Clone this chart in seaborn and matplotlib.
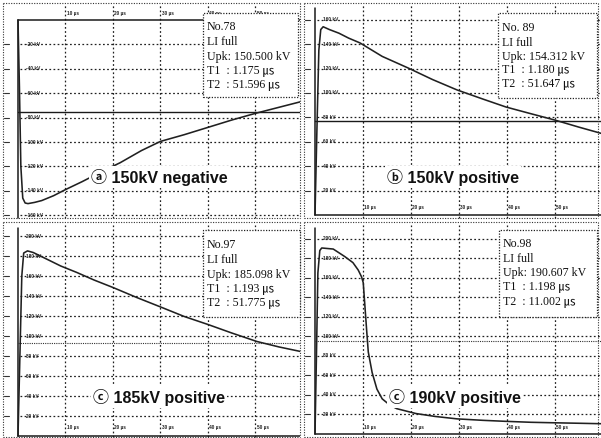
import matplotlib
matplotlib.use("Agg")
import matplotlib.pyplot as plt
from matplotlib.patches import Rectangle
from matplotlib.lines import Line2D
import seaborn as sns

sns.set_style("white")
plt.rcParams["font.family"] = ["Liberation Sans", "DejaVu Sans", "Noto Sans CJK KR"]

W, H = 601, 438

# ---- recorded lightning-impulse waveforms: time (µs) and voltage (kV) ----
time_a = [0.0, 0.3, 0.6, 1.0, 1.5, 2.1, 3.5, 5.0, 7.5, 10.0, 13.5, 17.5, 21.5,
          26.0, 30.0, 35.0, 40.0, 45.0, 50.0, 55.0, 60.0]
kv_a = [0, -55, -120, -146, -150, -150.5, -149.5, -148, -144, -139, -132.5,
        -124.5, -117, -107, -99.5, -94, -88, -82, -76.5, -71.5, -66.5]

time_b = [0.0, 0.4, 0.8, 1.2, 1.7, 3.0, 5.0, 7.0, 9.4, 14.0, 19.4, 24.5, 29.6,
          35.0, 39.8, 45.0, 49.9, 55.0, 60.0]
kv_b = [0, 70, 135, 152, 154.3, 152, 149, 145, 141, 130, 120.5, 111, 102.5,
        95, 88.5, 83, 77.9, 72, 66.5]

time_c = [0.0, 0.4, 0.8, 1.2, 2.0, 3.2, 6.0, 9.0, 12.4, 16.0, 20.0, 25.0, 30.3,
          35.0, 40.0, 45.0, 50.3, 55.0, 60.0]
kv_c = [0, 80, 160, 183, 185.1, 183.5, 177, 170, 163.5, 156, 148.5, 138.5,
        128.5, 119.5, 111.5, 103, 94.5, 89, 84]

time_d = [0.0, 0.3, 0.6, 1.0, 1.4, 3.8, 6.2, 7.9, 9.0, 9.7, 10.05, 10.4, 10.75,
          11.1, 11.9, 12.9, 14.0, 15.5, 17.0, 21.0, 25.0, 29.6, 35.0, 39.6,
          45.0, 49.7, 55.0, 60.0]
kv_d = [0, 80, 165, 188, 190.6, 189.5, 181.8, 175.6, 168, 161, 155, 131, 107,
        84, 63, 46, 36, 30, 26, 21, 18, 15.5, 14, 13, 12, 11.5, 11, 10.5]

captions = ["ⓐ 150kV negative", "ⓑ 150kV positive",
            "ⓒ 185kV positive", "ⓒ 190kV positive"]
shot_no = ["No.78", "No. 89", "No.97", "No.98"]
upk_kv = [150.500, 154.312, 185.098, 190.607]
t1_us = [1.175, 1.180, 1.193, 1.198]
t2_us = [51.596, 51.647, 51.775, 11.002]
polarity = [-1, 1, 1, 1]

time_ticks = [10, 20, 30, 40, 50]
kv_ticks = [
    [-20, -40, -60, -80, -100, -120, -140, -160],
    [20, 40, 60, 80, 100, 120, 140, 160],
    [20, 40, 60, 80, 100, 120, 140, 160, 180, 200],
    [20, 40, 60, 80, 100, 120, 140, 160, 180, 200],
]
waves = [(time_a, kv_a), (time_b, kv_b), (time_c, kv_c), (time_d, kv_d)]

# ---- screen geometry of each scope capture (pixels) ----
layout = [
    dict(cell=(0, 0, 300, 219), t0=18, px_us=4.75, v0=20, px_kv=1.22,
         box=(203, 13, 298, 97), rows=[27, 42, 57, 71, 85], cap=(159, 177),
         xlab_top=True, mid_solid=True, border=(3, 3, 300, 218)),
    dict(cell=(301, 0, 601, 219), t0=315, px_us=4.8, v0=215, px_kv=1.22,
         box=(498, 13, 597, 98), rows=[28, 43, 57, 70, 84], cap=(453, 177),
         xlab_top=False, mid_solid=True, border=(304, 3, 598, 218)),
    dict(cell=(0, 220, 300, 438), t0=18, px_us=4.75, v0=436, px_kv=1.0,
         box=(203, 230, 300, 317), rows=[245, 260, 275, 289, 303], cap=(159, 397),
         xlab_top=False, mid_solid=False, border=(3, 222, 300, 437)),
    dict(cell=(301, 220, 601, 438), t0=315, px_us=4.8, v0=434, px_kv=0.976,
         box=(499, 230, 597, 317), rows=[244, 259, 273, 287, 302], cap=(455, 397),
         xlab_top=False, mid_solid=False, border=(304, 222, 598, 437)),
]

fig = plt.figure(figsize=(W / 100, H / 100), dpi=100)
fig.patch.set_facecolor("white")

INK = "#1a1a1a"
GRID = dict(color="#1f1f1f", lw=0.9, linestyle=(0, (1.4, 1.9)))


def fx(px):
    return px / W


def fy(py):
    return 1 - py / H


for i, L in enumerate(layout):
    x0, y0, x1, y1 = L["cell"]
    ax = fig.add_axes([fx(x0), fy(y1), (x1 - x0) / W, (y1 - y0) / H])
    t_lo = (x0 - L["t0"]) / L["px_us"]
    t_hi = (x1 - L["t0"]) / L["px_us"]
    v_lo = (L["v0"] - y1) / L["px_kv"]
    v_hi = (L["v0"] - y0) / L["px_kv"]
    ax.set_xlim(t_lo, t_hi)
    ax.set_ylim(v_lo, v_hi)
    ax.set_axis_off()

    def kv_at(py):
        return (L["v0"] - py) / L["px_kv"]

    sign = polarity[i]
    top_kv = kv_at(y0 + 5)

    # dotted graticule
    for t in time_ticks:
        ax.plot([t, t], [kv_at(y1 - 1), top_kv], **GRID, zorder=1)
    for v in kv_ticks[i]:
        ax.plot([0.4, t_hi], [v, v], **GRID, zorder=1)

    # solid axes of the screen
    ax.plot([0, 0], [kv_at(y1 - 1) if sign < 0 else 0, kv_at(y0 + 8) if sign > 0 else 0],
            color=INK, lw=1.1, zorder=2)
    ax.plot([0, t_hi], [0, 0], color=INK, lw=1.1, zorder=2)

    # 50 % level of the peak voltage
    half = sign * upk_kv[i] / 2
    if L["mid_solid"]:
        ax.plot([0, t_hi], [half, half], color=INK, lw=1.0, zorder=2)
    else:
        ax.plot([0, t_hi], [half, half], color="#333333", lw=0.8,
                linestyle=(0, (1, 1)), zorder=2)

    # the recorded impulse
    tt, vv = waves[i]
    sns.lineplot(x=tt, y=vv, ax=ax, color="#202020", lw=1.15, sort=False,
                 estimator=None, zorder=3)
    ax.set_xlabel("")
    ax.set_ylabel("")

    # tiny scope scale labels
    for v in kv_ticks[i]:
        ax.text(1.6, v, f"{v} kV", fontsize=3.4, color="#222222",
                fontweight="bold", ha="left", va="center", zorder=4)
    for t in time_ticks:
        ypos = kv_at(y0 + 14) if L["xlab_top"] else kv_at(y1 - 11)
        ax.text(t + 0.3, ypos, f"{t} µs", fontsize=3.4, color="#222222",
                fontweight="bold", ha="left", va="center", zorder=4)

    # dotted outline of the capture, with small scale marks on the left
    bx0, by0, bx1, by1 = L["border"]
    for (xa, ya, xb, yb) in [(bx0, by0, bx1, by0), (bx0, by1, bx1, by1),
                             (bx0, by0, bx0, by1), (bx1, by0, bx1, by1)]:
        fig.add_artist(Line2D([fx(xa), fx(xb)], [fy(ya), fy(yb)],
                              color="#333333", lw=0.8, linestyle=(0, (1, 1.3))))
    for v in kv_ticks[i]:
        py = L["v0"] - v * L["px_kv"]
        fig.add_artist(Line2D([fx(bx0 + 1), fx(bx0 + 6)], [fy(py), fy(py)],
                              color="#333333", lw=0.8))

    # measurement box
    qx0, qy0, qx1, qy1 = L["box"]
    fig.add_artist(Rectangle((fx(qx0), fy(qy1)), (qx1 - qx0) / W, (qy1 - qy0) / H,
                             facecolor="white", edgecolor="#222222", lw=0.9,
                             linestyle=(0, (1, 1.2)), zorder=5))
    lines = [shot_no[i], "LI full", f"Upk: {upk_kv[i]:.3f} kV",
             f"T1  : {t1_us[i]:.3f} ㎲", f"T2  : {t2_us[i]:.3f} ㎲"]
    for s, ry in zip(lines, L["rows"]):
        fig.text(fx(qx0 + 4), fy(ry), s, fontsize=8.6, color="#111111",
                 family=["Liberation Serif", "Noto Sans CJK KR"],
                 ha="left", va="center", zorder=6)

    # panel caption
    cx, cy = L["cap"]
    fig.text(fx(cx), fy(cy), captions[i], fontsize=11.5, fontweight="bold",
             color="#111111", ha="center", va="center", zorder=6,
             family=["Liberation Sans", "Noto Sans CJK KR", "DejaVu Sans"],
             bbox=dict(facecolor="white", edgecolor="none", pad=1.5))

fig.savefig("out.png", dpi=100, facecolor="white")
